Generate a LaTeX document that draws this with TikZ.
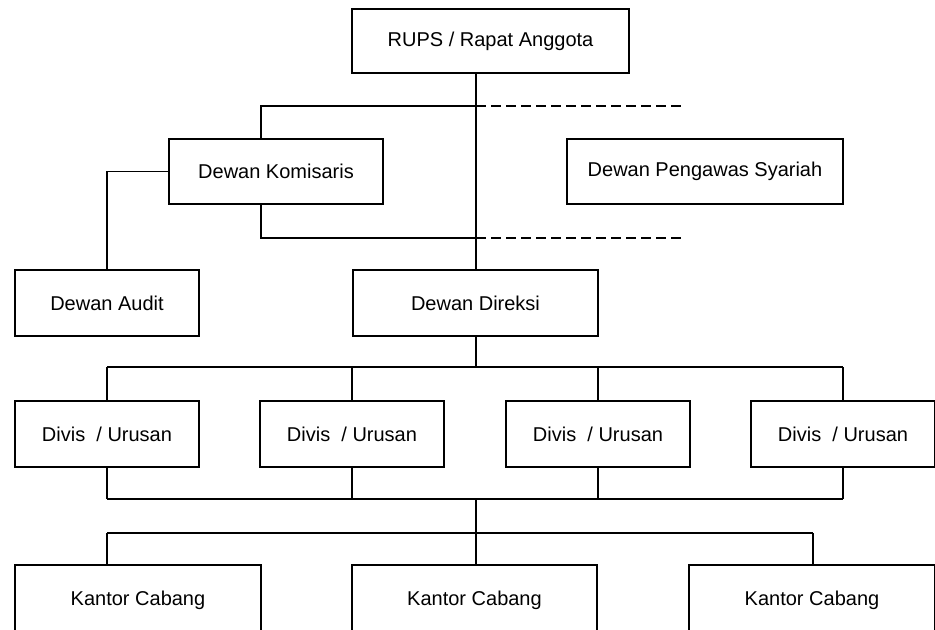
\documentclass[tikz,border=0pt]{standalone}
\usepackage{fontspec}
\setmainfont{Liberation Sans}
\usepackage{tikz}

\tikzset{
  orgbox/.style={draw, line width=1pt, inner sep=0pt, align=center, font=\fontsize{15}{18}\selectfont},
  orgline/.style={line width=1pt},
  orgdash/.style={line width=1pt, dash pattern={on 7.5pt off 3.75pt}}
}

\begin{document}
\begin{tikzpicture}[x=0.75pt,y=0.75pt,yscale=-1,xscale=1]
\useasboundingbox (0,0) rectangle (935,629);
\clip (0,0) rectangle (935,629);

%Shape: Rectangle
\node[orgbox, minimum width=207.75pt, minimum height=48pt] (rups) at (490.5,41) {RUPS / Rapat Anggota};
%Shape: Rectangle
\node[orgbox, minimum width=160.5pt, minimum height=48.75pt] (kom) at (276,171.5) {Dewan Komisaris};
%Shape: Rectangle
\node[orgbox, minimum width=207pt, minimum height=48.75pt] (dps) at (705,171.5) {Dewan Pengawas Syariah};
%Shape: Rectangle
\node[orgbox, minimum width=138pt, minimum height=49.5pt] (audit) at (107,303) {Dewan Audit};
%Shape: Rectangle
\node[orgbox, minimum width=183.75pt, minimum height=49.5pt] (dir) at (475.5,303) {Dewan Direksi};
%Shape: Rectangle
\node[orgbox, minimum width=138pt, minimum height=49.5pt] (div1) at (107,434) {Divis~ / Urusan};
\node[orgbox, minimum width=138pt, minimum height=49.5pt] (div2) at (352,434) {Divis~ / Urusan};
\node[orgbox, minimum width=138pt, minimum height=49.5pt] (div3) at (598,434) {Divis~ / Urusan};
\node[orgbox, minimum width=138pt, minimum height=49.5pt] (div4) at (843,434) {Divis~ / Urusan};
%Shape: Rectangle
\node[orgbox, minimum width=184.5pt, minimum height=52.5pt] (kc1) at (138,600) {Kantor Cabang};
\node[orgbox, minimum width=183.75pt, minimum height=52.5pt] (kc2) at (474.5,600) {Kantor Cabang};
\node[orgbox, minimum width=184.5pt, minimum height=52.5pt] (kc3) at (812,600) {Kantor Cabang};

\coordinate (up) at (261,106);
\coordinate (upend) at (684,106);
\coordinate (lo) at (261,238);
\coordinate (loend) at (684,238);
\coordinate (dbus) at (107,367);
\coordinate (ubus) at (107,499);
\coordinate (kbus) at (107,533);

%Straight Lines
\draw[orgline] (rups.south -| 476,0) -- (dir.north -| 476,0);
%Straight Lines
\draw[orgline] (kom.north -| up) -- (up) -- (up -| 476,0);
\draw[orgdash] (up -| 476,0) -- (upend);
%Straight Lines
\draw[orgline] (kom.south -| lo) -- (lo) -- (lo -| 476,0);
\draw[orgdash] (lo -| 476,0) -- (loend);
%Straight Lines
\draw[orgline] (kom.west) -| (audit.north);
%Straight Lines
\draw[orgline] (dir.south -| 476,0) -- (dbus -| 476,0);
\draw[orgline] (dbus -| div1.north) -- (dbus -| div4.north);
\draw[orgline] (dbus -| div1.north) -- (div1.north);
\draw[orgline] (dbus -| div2.north) -- (div2.north);
\draw[orgline] (dbus -| div3.north) -- (div3.north);
\draw[orgline] (dbus -| div4.north) -- (div4.north);
%Straight Lines
\draw[orgline] (div1.south) -- (ubus -| div1.south);
\draw[orgline] (div2.south) -- (ubus -| div2.south);
\draw[orgline] (div3.south) -- (ubus -| div3.south);
\draw[orgline] (div4.south) -- (ubus -| div4.south);
\draw[orgline] (ubus -| div1.south) -- (ubus -| div4.south);
\draw[orgline] (ubus -| 476,0) -- (kc2.north -| 476,0);
%Straight Lines
\draw[orgline] (kbus) -- (kbus -| 813,0);
\draw[orgline] (kbus) -- (kc1.north -| kbus);
\draw[orgline] (kbus -| 813,0) -- (kc3.north -| 813,0);

\end{tikzpicture}
\end{document}
